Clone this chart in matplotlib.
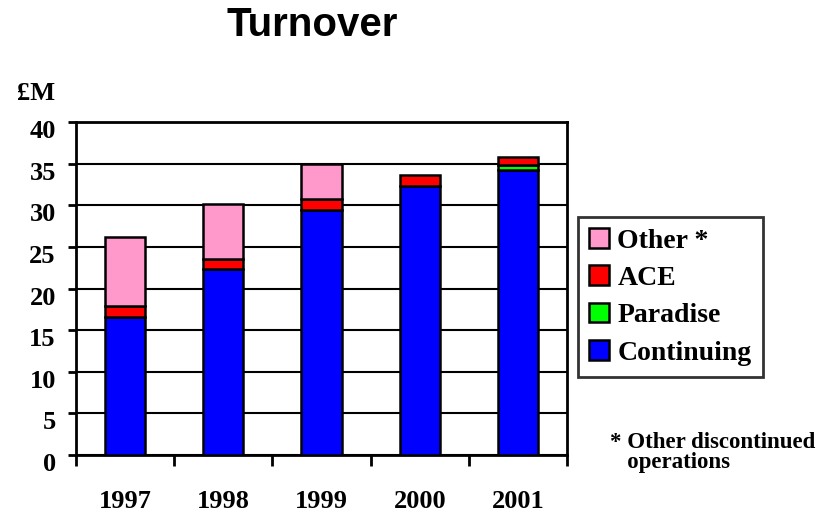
import matplotlib
matplotlib.use("Agg")
import matplotlib.pyplot as plt
import matplotlib.transforms as mtransforms
import numpy as np
from matplotlib.patches import Patch

years = ["1997", "1998", "1999", "2000", "2001"]
continuing = [16.6, 22.4, 29.4, 32.3, 34.2]
paradise = [0.0, 0.0, 0.0, 0.0, 0.6]
ace = [1.3, 1.2, 1.3, 1.3, 1.0]
other = [8.3, 6.5, 4.2, 0.0, 0.0]

series = [("Continuing", continuing, "#0000FF"),
          ("Paradise", paradise, "#00FF00"),
          ("ACE", ace, "#FF0000"),
          ("Other *", other, "#FF99CC")]

serif = ["Liberation Serif", "DejaVu Serif"]
sans = ["Liberation Sans", "DejaVu Sans"]

fig = plt.figure(figsize=(8.25, 5.19), dpi=100)
ax = fig.add_axes([0.0921, 0.1233, 0.5952, 0.6416])

x = np.arange(len(years))
bottom = np.zeros(len(years))
for name, vals, col in series:
    v = np.array(vals)
    mask = v > 0
    ax.bar(x[mask], v[mask], bottom=bottom[mask], width=0.41, color=col,
           edgecolor="black", linewidth=1.8, zorder=3)
    bottom += v

ax.set_xlim(-0.5, len(years) - 0.5)
ax.set_ylim(0, 40)
ax.set_yticks(np.arange(0, 41, 5))
ax.yaxis.grid(True, color="black", linewidth=1.5, zorder=0)
ax.set_axisbelow(True)
for s in ax.spines.values():
    s.set_linewidth(2.0)
ax.set_xticks(x)
ax.set_xticklabels(years, fontfamily=serif, fontweight="bold", fontsize=19)
ax.set_xticks(np.arange(-0.5, len(years)), minor=True)
ax.tick_params(axis="x", which="major", length=0, pad=25)
ax.tick_params(axis="x", which="minor", length=8, width=2.0, direction="out")
ax.tick_params(axis="y", length=5.5, width=2.0, direction="out", pad=9)
offset = mtransforms.ScaledTranslation(0, -0.07, fig.dpi_scale_trans)
for lab in ax.get_yticklabels():
    lab.set_fontfamily(serif)
    lab.set_fontweight("bold")
    lab.set_fontsize(19)
    lab.set_transform(lab.get_transform() + offset)

fig.text(312 / 825, 1 - 25 / 519, "Turnover", ha="center", va="center",
         fontfamily=sans, fontweight="bold", fontsize=29)
fig.text(36 / 825, 1 - 93 / 519, "£M", ha="center", va="center",
         fontfamily=serif, fontweight="bold", fontsize=19)

handles = [Patch(facecolor=col, edgecolor="black", linewidth=1.8, label=name)
           for name, vals, col in reversed(series)]
leg = fig.legend(handles=handles, loc="upper left",
                 bbox_to_anchor=(578 / 825, 1 - 217 / 519),
                 frameon=True, fancybox=False, edgecolor="black",
                 prop={"family": serif, "weight": "bold", "size": 20},
                 handlelength=0.72, handleheight=0.72, handletextpad=0.3,
                 labelspacing=0.42, borderpad=0.4, borderaxespad=0)
leg.get_frame().set_linewidth(2.0)

fig.text(610 / 825, 1 - 432 / 519, "* Other discontinued\n   operations",
         ha="left", va="top", fontfamily=serif, fontweight="bold",
         fontsize=16.5, linespacing=0.95)

fig.savefig("out.png", dpi=100)
